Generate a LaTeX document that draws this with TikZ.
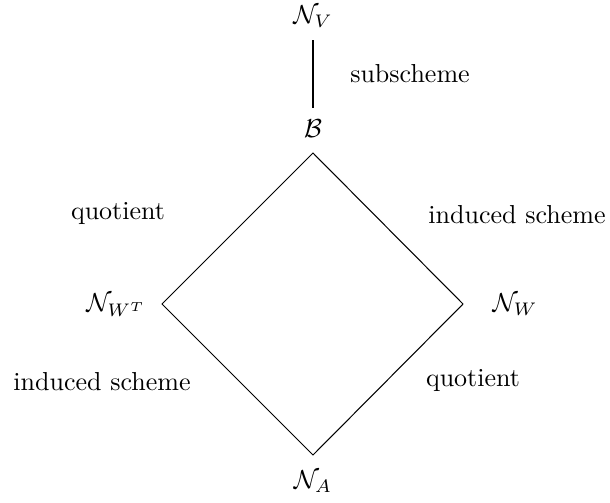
\documentclass[tikz,border=0pt]{standalone}
\begin{document}
\begin{tikzpicture}[x=0.3846pt,y=-0.3846pt,
  lbl/.style={inner sep=0pt,outer sep=0pt},
  edge/.style={line width=0.4pt},
  thick edge/.style={line width=0.8pt}]
\useasboundingbox (0,0) rectangle (610,502);
\node[lbl] (NV) at (313,17) {$\mathcal{N}_V$};
\node[lbl] (B) at (313,129) {$\mathcal{B}$};
\node[lbl] (NWT) at (116,305) {$\mathcal{N}_{W^T}$};
\node[lbl] (NW) at (515,305) {$\mathcal{N}_W$};
\node[lbl] (NA) at (313,482) {$\mathcal{N}_A$};
\coordinate (vt) at (313,153);
\coordinate (vl) at (162,304);
\coordinate (vr) at (463,304);
\coordinate (vb) at (313,455);
\coordinate (lt) at (313,40);
\coordinate (lb) at (313,108);
\draw[thick edge] (lt) -- (lb);
\draw[edge] (vt) -- (vl) -- (vb) -- (vr) -- cycle;
\node[lbl] (sub) at (410,74) {subscheme};
\node[lbl] (q1) at (118,213) {quotient};
\node[lbl] (i1) at (517,215) {induced scheme};
\node[lbl] (i2) at (102,382) {induced scheme};
\node[lbl] (q2) at (473,380) {quotient};
\end{tikzpicture}
\end{document}
